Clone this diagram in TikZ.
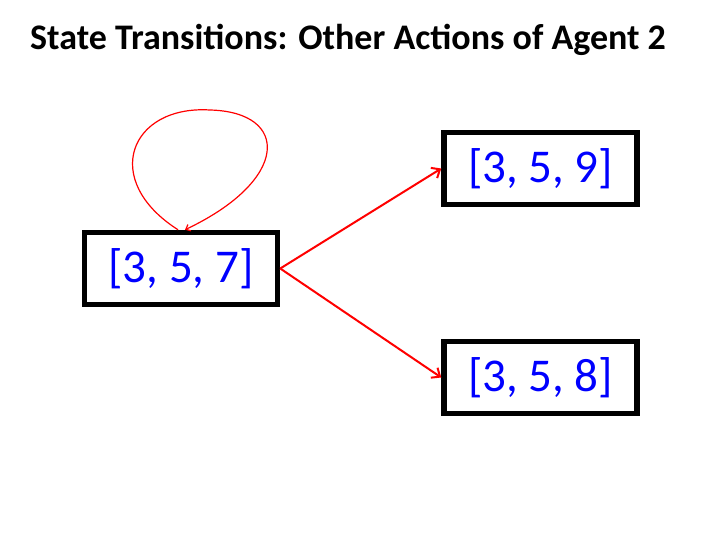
\documentclass[tikz,border=0pt]{standalone}
\usepackage{fontspec}
\setmainfont{Carlito}
\usetikzlibrary{arrows.meta}
\begin{document}
\begin{tikzpicture}[x=1pt, y=-1pt,
  statebox/.style={draw=black, line width=5.5pt, minimum width=193pt, minimum height=72pt, inner sep=0pt, text=blue, font=\fontsize{47}{52}\selectfont},
  move/.style={draw=red, line width=2pt, -{Straight Barb[length=7pt, width=12pt]}},
  stay/.style={draw=red, line width=1.2pt, -{Straight Barb[length=4pt, width=7pt]}}]
\useasboundingbox (0,0) rectangle (720,540);
\node[anchor=base west, inner sep=0pt, font=\fontsize{36}{40}\selectfont\bfseries] (title) at (30,50) {State Transitions: Other Actions of Agent 2};
\node[statebox] (s357) at (181,268.5) {[3, 5, 7]};
\node[statebox] (s359) at (540.5,168.5) {[3, 5, 9]};
\node[statebox] (s358) at (540.5,377.5) {[3, 5, 8]};
\draw[move] (s357.east) -- (s359.west);
\draw[move] (s357.east) -- (s358.west);
% loop back into the same state
\coordinate (looptop) at (210,110);
\draw[stay] ([xshift=-3pt]s357.north) .. controls (100,180) and (130,105) .. (looptop)
  .. controls (290,112) and (290,180) .. ([xshift=4pt]s357.north);
\end{tikzpicture}
\end{document}
